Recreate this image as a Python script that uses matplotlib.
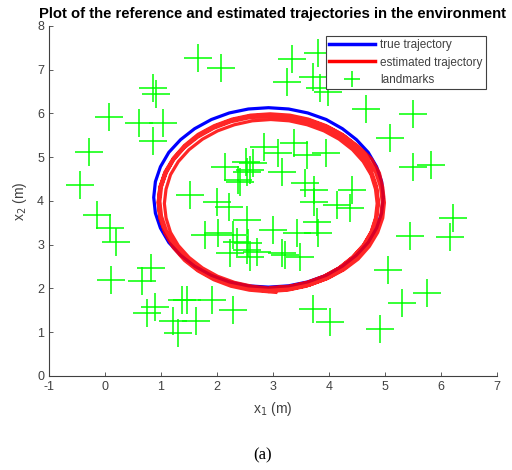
import matplotlib
matplotlib.use("Agg")
from matplotlib import pyplot as plt

# true trajectory
true_x = [4.97, 4.94, 4.85, 4.70, 4.49, 4.24, 3.95, 3.62, 3.28, 2.92, 2.56, 2.22,
          1.90, 1.60, 1.35, 1.14, 0.99, 0.90, 0.87, 0.90, 0.99, 1.14, 1.35, 1.60,
          1.90, 2.22, 2.56, 2.92, 3.28, 3.62, 3.95, 4.24, 4.49, 4.70, 4.85, 4.94, 4.97]
true_y = [4.08, 4.44, 4.78, 5.11, 5.40, 5.65, 5.86, 6.01, 6.10, 6.13, 6.10, 6.01,
          5.86, 5.65, 5.40, 5.11, 4.78, 4.44, 4.08, 3.72, 3.38, 3.05, 2.76, 2.51,
          2.30, 2.15, 2.06, 2.03, 2.06, 2.15, 2.30, 2.51, 2.76, 3.05, 3.38, 3.72, 4.08]

# estimated trajectory, five loops plus the tail
est_x = [2.96, 3.29, 3.61, 3.91, 4.18, 4.42, 4.61, 4.75, 4.83, 4.86, 4.83, 4.75,
         4.61, 4.42, 4.18, 3.91, 3.61, 3.29, 2.96, 2.63, 2.31, 2.01, 1.74, 1.50,
         1.31, 1.17, 1.09, 1.06, 1.09, 1.17, 1.31, 1.50, 1.74, 2.01, 2.31, 2.63,
         2.93, 3.27, 3.60, 3.91, 4.18, 4.42, 4.62, 4.76, 4.85, 4.88, 4.85, 4.76,
         4.62, 4.42, 4.18, 3.91, 3.60, 3.27, 2.93, 2.59, 2.26, 1.95, 1.68, 1.44,
         1.24, 1.10, 1.01, 0.98, 1.01, 1.10, 1.24, 1.44, 1.68, 1.95, 2.26, 2.59,
         2.95, 3.30, 3.63, 3.95, 4.24, 4.48, 4.68, 4.83, 4.92, 4.95, 4.92, 4.83,
         4.68, 4.48, 4.24, 3.95, 3.63, 3.30, 2.95, 2.60, 2.27, 1.95, 1.66, 1.42,
         1.22, 1.07, 0.98, 0.95, 0.98, 1.07, 1.22, 1.42, 1.66, 1.95, 2.27, 2.60,
         2.97, 3.32, 3.66, 3.98, 4.27, 4.52, 4.72, 4.87, 4.96, 4.99, 4.96, 4.90,
         4.76, 4.52, 4.27, 3.98, 3.66, 3.32, 2.97, 2.62, 2.28, 1.96, 1.67, 1.42,
         1.22, 1.07, 0.98, 0.95, 0.98, 1.07, 1.22, 1.42, 1.67, 1.96, 2.28, 2.62,
         2.92, 3.26, 3.59, 3.90, 4.18, 4.42, 4.62, 4.76, 4.85, 4.88, 4.85, 4.76,
         4.62, 4.42, 4.18, 3.90, 3.59, 3.26, 2.92, 2.58, 2.25, 1.94, 1.66, 1.42,
         1.22, 1.08, 0.99, 0.96, 0.99, 1.08, 1.22, 1.42, 1.66, 1.94, 2.25, 2.58,
         2.96, 3.05]
est_y = [2.02, 2.05, 2.14, 2.28, 2.47, 2.71, 2.98, 3.28, 3.61, 3.94, 4.27, 4.60,
         4.90, 5.17, 5.41, 5.60, 5.74, 5.83, 5.86, 5.83, 5.74, 5.60, 5.41, 5.17,
         4.90, 4.60, 4.27, 3.94, 3.61, 3.28, 2.98, 2.71, 2.47, 2.28, 2.14, 2.05,
         2.01, 2.04, 2.13, 2.28, 2.47, 2.72, 3.00, 3.31, 3.65, 3.99, 4.33, 4.67,
         4.98, 5.26, 5.51, 5.70, 5.85, 5.94, 5.97, 5.94, 5.85, 5.70, 5.51, 5.26,
         4.98, 4.67, 4.33, 3.99, 3.65, 3.31, 3.00, 2.72, 2.47, 2.28, 2.13, 2.04,
         1.95, 1.98, 2.07, 2.22, 2.42, 2.67, 2.96, 3.28, 3.62, 3.97, 4.32, 4.66,
         4.98, 5.27, 5.52, 5.72, 5.87, 5.96, 5.99, 5.96, 5.87, 5.72, 5.52, 5.27,
         4.98, 4.66, 4.32, 3.97, 3.62, 3.28, 2.96, 2.67, 2.42, 2.22, 2.07, 1.98,
         1.96, 1.99, 2.08, 2.23, 2.43, 2.67, 2.96, 3.28, 3.61, 3.96, 4.31, 4.64,
         4.96, 5.25, 5.49, 5.69, 5.84, 5.93, 5.96, 5.93, 5.84, 5.69, 5.49, 5.25,
         4.96, 4.64, 4.31, 3.96, 3.61, 3.28, 2.96, 2.67, 2.43, 2.23, 2.08, 1.99,
         1.93, 1.96, 2.05, 2.20, 2.40, 2.64, 2.93, 3.25, 3.58, 3.93, 4.28, 4.61,
         4.93, 5.22, 5.46, 5.66, 5.81, 5.90, 5.93, 5.90, 5.81, 5.66, 5.46, 5.22,
         4.93, 4.61, 4.28, 3.93, 3.58, 3.25, 2.93, 2.64, 2.40, 2.20, 2.05, 1.96,
         1.92, 1.91]

# landmarks
lm_x = [1.66, 2.07, 0.86, 0.91, 0.07, 0.61, 1.04, 0.86, -0.29, -0.45, -0.14, 0.09,
        0.20, 0.10, 0.66, 0.82, 0.89, 0.75, 1.38, 1.46, 1.21, 1.63, 1.30, 1.91,
        2.29, 3.71, 4.02, 4.91, 5.30, 5.75, 5.05, 5.45, 6.16, 6.21, 5.50, 5.82,
        5.09, 5.50, 4.66, 3.34, 3.80, 3.25, 3.71, 3.84, 3.98,
        3.38, 2.84, 3.95, 3.61, 3.09, 2.14, 2.52, 2.54, 2.41, 3.16, 3.57, 4.41,
        1.52, 2.00, 2.21, 3.73, 3.73, 4.14, 4.38, 2.54, 3.79, 2.02, 1.79, 2.29,
        3.00, 3.43, 3.80, 2.23, 2.54, 2.71, 3.16, 3.21, 3.48, 2.55, 2.59, 2.36,
        2.64, 2.59, 2.38]
lm_y = [7.27, 7.04, 6.58, 6.45, 5.92, 5.78, 5.78, 5.37, 5.12, 4.37, 3.68, 3.38,
        3.06, 2.19, 2.17, 2.47, 1.58, 1.44, 1.74, 1.74, 1.26, 1.26, 0.98, 1.74,
        1.51, 1.53, 1.24, 1.07, 1.67, 1.90, 2.42, 3.20, 3.18, 3.61, 4.78, 4.82,
        5.44, 5.99, 6.10, 7.25, 7.38, 6.72, 6.83, 6.58, 6.49,
        5.32, 5.23, 5.10, 5.05, 5.10, 4.78, 4.89, 4.66, 4.43, 4.66, 4.41, 4.25,
        4.14, 3.98, 3.86, 4.25, 3.98, 3.91, 3.84, 3.57, 3.52, 3.27, 3.22, 3.22,
        3.34, 3.27, 3.27, 2.81, 2.88, 2.83, 2.81, 2.77, 2.72, 3.04, 2.72, 3.06,
        4.87, 4.71, 4.48]

grey = "#404040"
plt.rcParams["font.family"] = ["Liberation Sans", "DejaVu Sans"]
plt.rcParams["axes.unicode_minus"] = False

fig = plt.figure(figsize=(5.12, 4.70), dpi=100)
ax = fig.add_axes([0.0957, 0.2, 0.875, 0.745])

ax.plot(true_x, true_y, color="#0000ff", lw=2.3, label="true trajectory")
ax.plot(est_x, est_y, color="#ff0000", lw=2.3, alpha=0.85, label="estimated trajectory")
ax.plot(lm_x, lm_y, "+", color="#00ff00", markersize=20, markeredgewidth=1.1,
        label="landmarks")

ax.set_xlim(-1, 7)
ax.set_ylim(0, 8)
ax.set_xticks(range(-1, 8))
ax.set_yticks(range(0, 9))
for s in ["top", "right"]:
    ax.spines[s].set_visible(False)
for s in ["left", "bottom"]:
    ax.spines[s].set_color(grey)
    ax.spines[s].set_linewidth(0.8)
ax.tick_params(direction="in", length=3, width=0.6, colors=grey, labelsize=9)

ax.set_title("Plot of the reference and estimated trajectories in the environment",
             fontsize=10.7, fontweight="bold", pad=6)
ax.set_xlabel("x$_1$ (m)", fontsize=10, color=grey, labelpad=5)
ax.set_ylabel("x$_2$ (m)", fontsize=10, color=grey, labelpad=6)

leg = ax.legend(loc="upper right", bbox_to_anchor=(0.975, 0.972), borderaxespad=0,
                fontsize=8.5, handlelength=3.9, handletextpad=0.4, markerscale=0.55,
                fancybox=False, framealpha=1, borderpad=0.3, labelspacing=0.45)
leg.get_frame().set_edgecolor(grey)
leg.get_frame().set_linewidth(0.8)
for t in leg.get_texts():
    t.set_color(grey)
for h in leg.legend_handles[:2]:
    h.set_linewidth(2.5)
    h.set_alpha(1)

fig.text(0.513, 0.032, "(a)", fontsize=12, family="Liberation Serif",
         ha="center", va="center")

fig.savefig("out.png", dpi=100)
